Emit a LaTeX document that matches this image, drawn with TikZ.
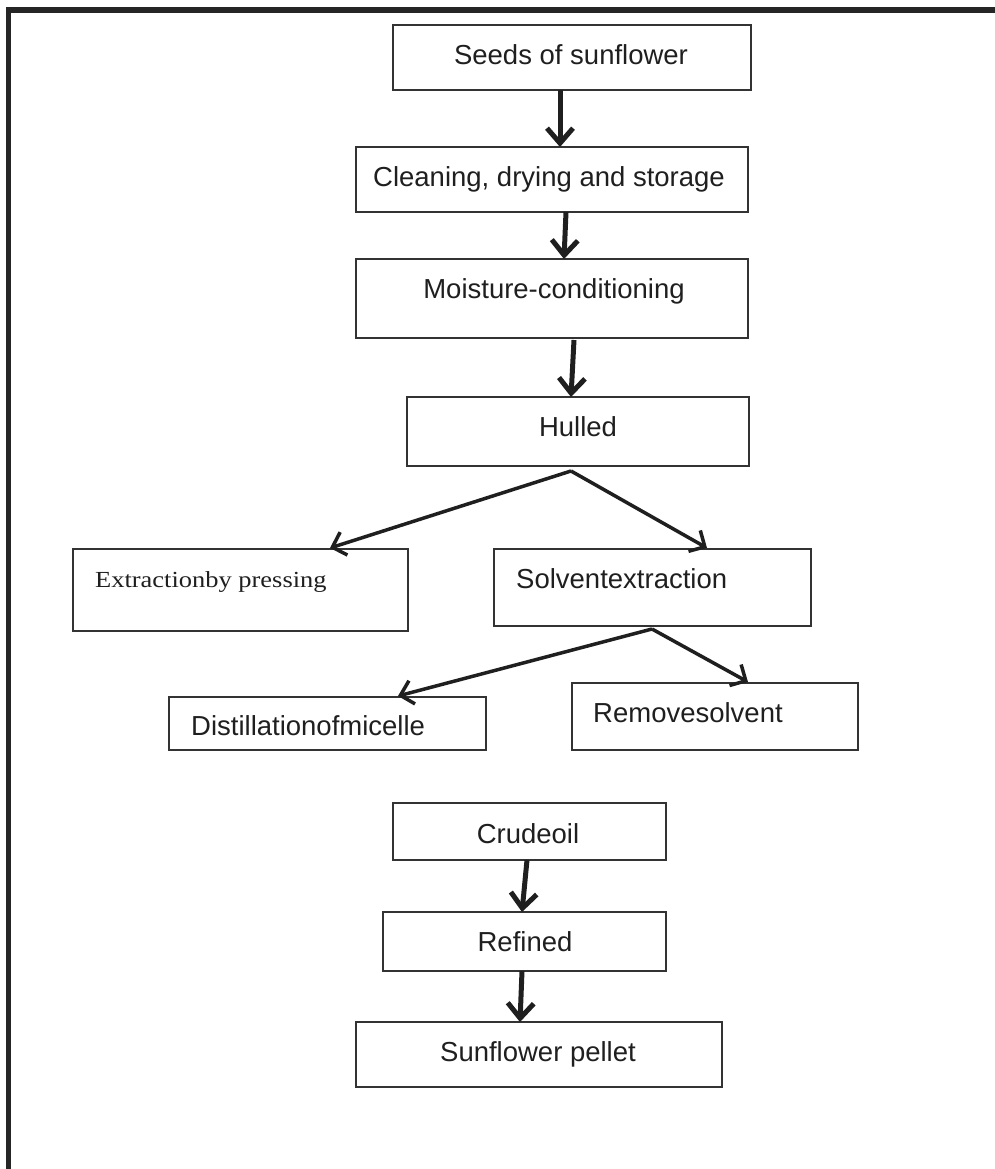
\documentclass[tikz,border=0pt]{standalone}
\usepackage{fontspec}
\usetikzlibrary{arrows.meta}
\newfontfamily\arialf{Liberation Sans}
\newfontfamily\serf[FakeStretch=1.15]{Liberation Serif}
\tikzset{
  box/.style={draw=black!80, line width=1.3pt, inner sep=0pt, outer sep=0pt, rectangle},
  txt/.style={inner sep=0pt, text=black!88, font=\arialf\fontsize{27.5}{30}\selectfont},
  stxt/.style={inner sep=0pt, text=black!88, font=\serf\fontsize{23}{27}\selectfont},
  varrow/.style={draw=black!88, line width=5pt, -{Straight Barb[length=15pt,width=26pt]}},
  barrow/.style={draw=black!88, line width=3.5pt, -{Straight Barb[length=12pt,width=24pt]}},
  frameline/.style={draw=black!85, line width=5.5pt}
}
\begin{document}
\begin{tikzpicture}[x=1pt,y=-1pt]
\useasboundingbox (0,0) rectangle (995,1169);
% frame
\draw[frameline] (8.5,1175) -- (8.5,10) -- (1000,10);

% boxes
\node[box, minimum width=358pt, minimum height=65pt] (seeds) at (572,57.5) {};
\node[box, minimum width=392pt, minimum height=65pt] (clean) at (552,179.5) {};
\node[box, minimum width=392pt, minimum height=79pt] (moist) at (552,298.5) {};
\node[box, minimum width=342pt, minimum height=69pt] (hulled) at (578,431.5) {};
\node[box, minimum width=335pt, minimum height=82pt] (extract) at (240.5,590) {};
\node[box, minimum width=317pt, minimum height=77pt] (solvent) at (652.5,587.5) {};
\node[box, minimum width=317pt, minimum height=53pt] (distill) at (327.5,723.5) {};
\node[box, minimum width=286pt, minimum height=67pt] (remove) at (715,716.5) {};
\node[box, minimum width=273pt, minimum height=57pt] (crude) at (529.5,831.5) {};
\node[box, minimum width=283pt, minimum height=59pt] (refined) at (524.5,941.5) {};
\node[box, minimum width=366pt, minimum height=65pt] (pellet) at (539,1054.5) {};

% texts
\node[txt, anchor=base] (tseeds) at (571,65) {Seeds of sunflower};
\node[txt, anchor=base] (tclean) at (549,186) {Cleaning, drying and storage};
\node[txt, anchor=base] (tmoist) at (554,298) {Moisture-conditioning};
\node[txt, anchor=base] (thulled) at (578,436) {Hulled};
\node[stxt, anchor=base west] (textract) at (95,587) {Extractionby pressing};
\node[txt, anchor=base west] (tsolvent) at (516,588) {Solventextraction};
\node[txt, anchor=base west] (tdistill) at (191,735) {Distillationofmicelle};
\node[txt, anchor=base west] (tremove) at (593,722) {Removesolvent};
\node[txt, anchor=base] (tcrude) at (528,843) {Crudeoil};
\node[txt, anchor=base] (trefined) at (525,951) {Refined};
\node[txt, anchor=base] (tpellet) at (538,1061) {Sunflower pellet};

% vertical arrows
\draw[varrow] ([xshift=-12pt]seeds.south) -- ([xshift=8pt]clean.north);
\draw[varrow] ([xshift=14pt]clean.south) -- ([xshift=12pt]moist.north);
\draw[varrow] ([xshift=22pt,yshift=-2pt]moist.south) -- ([xshift=-7pt]hulled.north);
\draw[varrow] ([xshift=-2.5pt]crude.south) -- ([xshift=-2.5pt]refined.north);
\draw[varrow] ([xshift=-2.5pt]refined.south) -- ([xshift=-19pt]pellet.north);

% branch arrows
\coordinate (hsplit) at ([xshift=-7pt,yshift=-5pt]hulled.south);
\draw[barrow] (hsplit) -- ([xshift=89.5pt,yshift=1pt]extract.north);
\draw[barrow] (hsplit) -- ([xshift=54.5pt,yshift=1pt]solvent.north);
\coordinate (ssplit) at ([xshift=-0.5pt,yshift=-3pt]solvent.south);
\draw[barrow] (ssplit) -- ([xshift=70.5pt,yshift=1pt]distill.north);
\draw[barrow] (ssplit) -- ([xshift=33pt,yshift=1pt]remove.north);
\end{tikzpicture}
\end{document}
